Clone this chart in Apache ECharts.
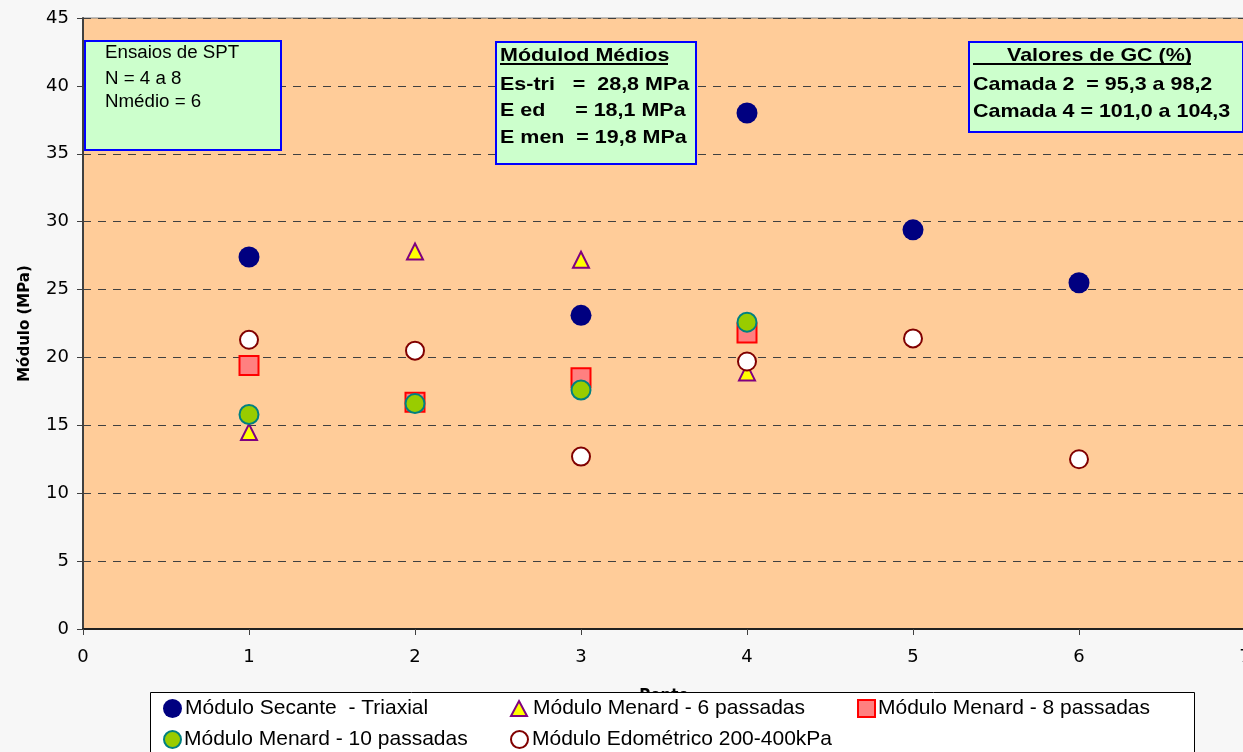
<!DOCTYPE html>
<html><head><meta charset="utf-8">
<script src="https://cdn.jsdelivr.net/npm/echarts@6/dist/echarts.min.js"></script>
<style>html,body{margin:0;padding:0;background:#f7f7f7}#c{width:1243px;height:752px}</style>
</head><body><div id="c"></div>
<script>
const pontos = [1, 2, 3, 4, 5, 6];
const triaxial = [27.4, null, 23.1, 38.0, 29.4, 25.5];
const menard6 = [14.5, 27.8, 27.2, 18.9, null, null];
const menard8 = [19.4, 16.7, 18.5, 21.8, null, null];
const menard10 = [15.8, 16.6, 17.6, 22.6, null, null];
const edometrico = [21.3, 20.5, 12.7, 19.7, 21.4, 12.5];
const seriesNames = ['Módulo Secante  - Triaxial', 'Módulo Menard - 6 passadas', 'Módulo Menard - 8 passadas', 'Módulo Menard - 10 passadas', 'Módulo Edométrico 200-400kPa'];
const box1Lines = ['Ensaios de SPT', 'N = 4 a 8', 'Nmédio = 6'];
const box2Lines = ['Módulod Médios', 'Es-tri   =  28,8 MPa', 'E ed     = 18,1 MPa', 'E men  = 19,8 MPa'];
const box3Lines = ['Valores de GC (%)', 'Camada 2  = 95,3 a 98,2', 'Camada 4 = 101,0 a 104,3'];

function pts(arr){ const out=[]; arr.forEach((v,i)=>{ if(v!==null) out.push([pontos[i], v]); }); return out; }
const FONT = '"Liberation Sans", Arial, sans-serif';
const DJ = '"DejaVu Sans", sans-serif';

const chart = echarts.init(document.getElementById('c'), null, {renderer:'canvas'});
const styles = [
  {symbol:'circle', size:21, itemStyle:{color:'#000080', borderWidth:0, opacity:1}},
  {symbol:'triangle', size:16, itemStyle:{color:'#FFFF00', borderColor:'#800080', borderWidth:2, opacity:1}},
  {symbol:'rect', size:19, itemStyle:{color:'#FF8080', borderColor:'#FF0000', borderWidth:2, opacity:1}},
  {symbol:'circle', size:19, itemStyle:{color:'#99CC00', borderColor:'#008080', borderWidth:2, opacity:1}},
  {symbol:'circle', size:18, itemStyle:{color:'#FFFFFF', borderColor:'#800000', borderWidth:2, opacity:1}}
];
const datas = [triaxial, menard6, menard8, menard10, edometrico];
const series = datas.map((d,i)=>({
  type:'scatter', name:seriesNames[i], data:pts(d), symbol:styles[i].symbol, symbolSize:styles[i].size,
  itemStyle:styles[i].itemStyle, z:2+i, animation:false, emphasis:{disabled:true}
}));
const legendPos = [[163,698],[510,698],[857,698],[163,729],[510,729]];
const legendIcon = [[19,19],[16,15],[17,17],[17,17],[17,17]];
const legendTextPad = [-2,1,-2,-2,-1];
const legends = seriesNames.map((n,i)=>({
  data:[n], left:legendPos[i][0], top:legendPos[i][1], padding:0,
  itemWidth:legendIcon[i][0], itemHeight:legendIcon[i][1], itemGap:4,
  textStyle:{fontFamily:FONT, fontSize:21, color:'#000', padding:[0,0,0,legendTextPad[i]]}, selectedMode:false, z:200
}));

function box(x,y,w,h,lines,opts){
  const els=[{type:'rect', shape:{x:x,y:y,width:w,height:h}, style:{fill:'#CCFFCC', stroke:'#0000FF', lineWidth:2}, z:100}];
  lines.forEach((t,i)=>{
    els.push({type:'text', x:opts.tx[i], y:opts.ty[i], scaleX:opts.sx, style:{text:t, x:0, y:0, font:(opts.bold?'bold ':'')+opts.fs+'px '+FONT, fill:'#000', verticalAlign:'middle', textVerticalAlign:'middle'}, z:101});
  });
  if(opts.ul) els.push({type:'line', shape:{x1:opts.ul[0], y1:opts.ul[2], x2:opts.ul[1], y2:opts.ul[2]}, style:{stroke:'#000', lineWidth:2}, z:101});
  return els;
}

const graphics = [].concat(
  box(85,41,196,109,box1Lines,{tx:[105,105,105], ty:[53,79,102], fs:18, sx:1.04, bold:false}),
  box(496,42,200,122,box2Lines,{tx:[500,500,500,500], ty:[56,85,111,138], fs:19, sx:1.13, bold:true, ul:[500,668,64]}),
  box(969,42,274,90,box3Lines,{tx:[1007,973,973], ty:[56,85,112], fs:19, sx:1.13, bold:true, ul:[973,1191,64]}),
  [{type:'rect', shape:{x:150.5,y:692.5,width:1044,height:80}, style:{fill:'#FFFFFF', stroke:'#000', lineWidth:1}, z:150}]
);

chart.setOption({
  backgroundColor:'#f7f7f7',
  animation:false,
  grid:{left:83, top:18, right:-2, bottom:123, outerBoundsMode:'none', containLabel:false, show:true, backgroundColor:'#FFCC99', borderColor:'#808080', borderWidth:1},
  xAxis:{type:'value', min:0, max:7, interval:1, name:'Ponto', nameLocation:'middle', nameGap:60,
    nameTextStyle:{fontFamily:DJ, fontSize:15, fontWeight:'bold', color:'#000'},
    axisLine:{lineStyle:{color:'#202020', width:2}}, axisTick:{show:true, inside:false, length:6, lineStyle:{color:'#404040'}},
    axisLabel:{fontFamily:DJ, fontSize:18, color:'#000', margin:19, showMaxLabel:true}, splitLine:{show:false}},
  yAxis:{type:'value', min:0, max:45, interval:5, name:'Módulo (MPa)', nameLocation:'middle', nameGap:50,
    nameTextStyle:{fontFamily:DJ, fontSize:15, fontWeight:'bold', color:'#000'},
    axisLine:{show:true, lineStyle:{color:'#404040', width:2}}, axisTick:{show:true, length:6, lineStyle:{color:'#404040'}},
    axisLabel:{fontFamily:DJ, fontSize:18, color:'#000', margin:14},
    splitLine:{show:true, lineStyle:{color:'#404040', type:[8,7], width:1}}},
  legend:legends,
  series:series,
  graphic:graphics
});
</script></body></html>
